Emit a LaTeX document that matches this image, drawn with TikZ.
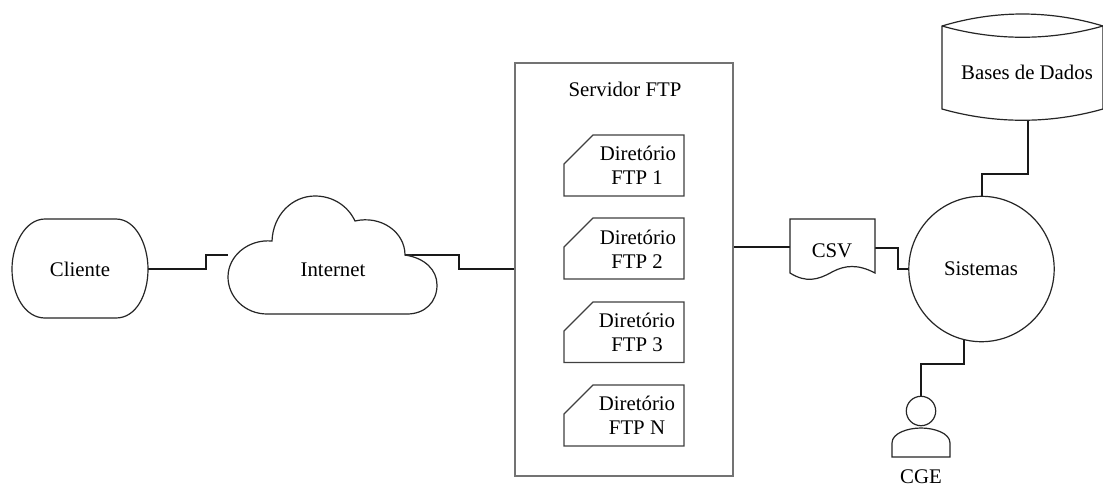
\documentclass[tikz,border=0pt]{standalone}
\usepackage{fontspec}
\setmainfont{Liberation Serif}
\tikzset{
  every node/.style={font=\fontsize{20.8}{24}\selectfont, inner sep=0pt, outer sep=0pt, text height=14pt, text depth=0pt},
  outline/.style={draw=black!85, line width=1.2pt, fill=white, line join=miter},
  grayline/.style={draw=black!55, line width=1.5pt},
  conn/.style={draw=black!90, line width=2pt, line join=miter},
  dirbox/.style={draw=black!75, line width=1.3pt, fill=white}
}
\begin{document}
\begin{tikzpicture}[x=1pt,y=-1pt]
\useasboundingbox[fill=white] (0,0) rectangle (1103,488);
% connector ends
\coordinate (cloudW) at (228,255);
\coordinate (cloudE) at (405,255);
\coordinate (serverW) at (515,269);
\coordinate (serverE) at (733,246.5);
\coordinate (csvW) at (790,246.5);
\coordinate (csvE) at (875,248);
\coordinate (sysW) at (909,269);
\coordinate (sysN) at (982,196.5);
\coordinate (sysS) at (964,339);
\coordinate (dbS) at (1028,120);
\coordinate (cliE) at (148,269);
\coordinate (cgeN) at (921,396);
% connectors
\draw[conn] (cliE) -- (205.5,269) -- (205.5,255) -- (cloudW);
\draw[conn] (cloudE) -- (459,255) -- (459,269) -- (serverW);
\draw[conn] (serverE) -- (csvW);
\draw[conn] (csvE) -- (898,248) -- (898,269) -- (sysW);
\draw[conn] (dbS) -- (1028,174) -- (982,174) -- (sysN);
\draw[conn] (sysS) -- (964,364) -- (921,364) -- (cgeN);
% Cliente
\draw[outline] (45,219) -- (116,219) .. controls (136,219) and (148,245) .. (148,269)
  .. controls (148,295) and (136,318) .. (116,318) -- (45,318)
  .. controls (25,318) and (12,295) .. (12,269) .. controls (12,245) and (25,219) .. (45,219) -- cycle;
\node (cliente) at (80,269) {Cliente};
% Internet
\draw[outline] (272,241) .. controls (273,215) and (292,196) .. (315,196)
  .. controls (333,196) and (348,206) .. (355,221)
  .. controls (381,215) and (405,232) .. (405,255)
  .. controls (425,258) and (437,270) .. (437,285)
  .. controls (437,302) and (425,314) .. (407,314)
  -- (267,314)
  .. controls (245,314) and (228,297) .. (228,277)
  .. controls (228,256) and (248,239) .. (272,241) -- cycle;
\draw[draw=black!85, line width=1.2pt] (405,255) -- (412,255);
\node (internet) at (333,269) {Internet};
% Server
\draw[grayline, fill=white] (515,63) rectangle (733,476);
\node (servidor) at (625,89) {Servidor FTP};
% Directories
\draw[dirbox] (593,135) -- (684,135) -- (684,196) -- (564,196) -- (564,164) -- cycle;
\node (d1a) at (638,153) {Diretório};
\node (d1b) at (637,177) {FTP 1};
\draw[dirbox] (593,218) -- (684,218) -- (684,279) -- (564,279) -- (564,247) -- cycle;
\node (d2a) at (638,237) {Diretório};
\node (d2b) at (637,261) {FTP 2};
\draw[dirbox] (593,302) -- (684,302) -- (684,362.5) -- (564,362.5) -- (564,331) -- cycle;
\node (d3a) at (637,320) {Diretório};
\node (d3b) at (637,344) {FTP 3};
\draw[dirbox] (593,385) -- (684,385) -- (684,446) -- (564,446) -- (564,414) -- cycle;
\node (d4a) at (637,403) {Diretório};
\node (d4b) at (637,427) {FTP N};
% CSV
\draw[outline] (790,219) -- (875,219) -- (875,273)
  .. controls (858,264) and (845,265) .. (832,272)
  .. controls (818,280) and (806,283) .. (790,273) -- cycle;
\node (csv) at (832,250) {CSV};
% Sistemas
\draw[outline] (981.5,269) circle [radius=72.7];
\node (sistemas) at (981,268) {Sistemas};
% Bases de Dados
\draw[outline] (942,26) .. controls (995,10) and (1050,10) .. (1103,26)
  -- (1103,109) .. controls (1050,124) and (995,124) .. (942,109) -- cycle;
\draw[draw=black!85, line width=1.2pt] (942,26) .. controls (995,41) and (1050,41) .. (1103,26);
\node (bases) at (1027,72) {Bases de Dados};
% CGE
\draw[outline] (921,411) circle [radius=14.7];
\draw[outline] (892,457) -- (892,443) .. controls (892,433) and (908,428) .. (921,428)
  .. controls (934,428) and (950,433) .. (950,443) -- (950,457) -- cycle;
\node (cge) at (921,476.5) {CGE};
\end{tikzpicture}
\end{document}
